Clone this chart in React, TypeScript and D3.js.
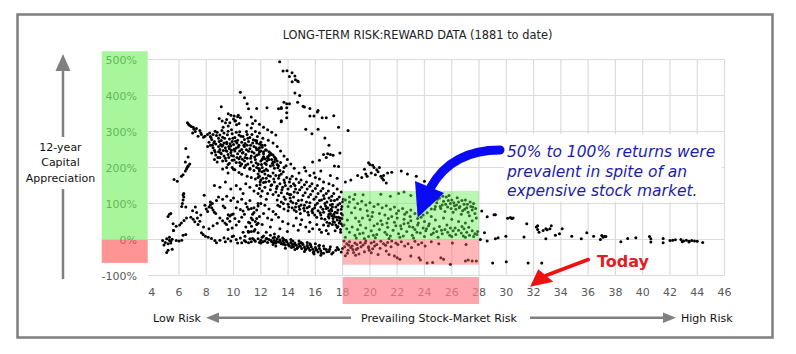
import React from "react";
import * as d3 from "d3";

// ---- data: [prevailing risk, 12-year capital appreciation %] ----
const earlyLow = [
  [4.8, -3], [5.0, -8], [5.1, 2], [5.2, -12], [5.3, -2], [5.3, 6], [5.4, -5], [5.5, 1], [5.8, -3], [6.0, -4],
  [6.2, -2], [5.1, -36], [5.2, -30], [5.5, -27], [6.5, 14], [6.3, 12], [5.6, 25], [4.9, -15], [5.4, -10],
  [7.65, 19], [7.77, 14], [7.94, 9], [8.14, 6], [8.38, 3], [8.63, -3], [8.75, -9],
];
const risingLeft = [
  [5.64, 167], [5.88, 162], [6.18, 176], [6.3, 180], [6.47, 190], [6.55, 196], [6.67, 204], [6.6, 200],
  [6.2, 92], [6.25, 100], [6.3, 110], [6.35, 118], [6.3, 124], [6.35, 128], [6.5, 90], [7.2, 90], [7.85, 123], [8.75, 108],
  [5.2, 64], [5.3, 70], [5.4, 72], [5.57, 44], [5.8, 37], [6.05, 40], [6.18, 46], [6.37, 53], [6.55, 60], [6.87, 62],
  [7.04, 56], [7.16, 49], [7.4, 42], [7.53, 51], [7.35, 60], [5.6, 25],
];
const middleBand = [
  [7.9, 95], [8.0, 85], [8.1, 78], [8.2, 90], [8.3, 96], [8.4, 88], [8.5, 82], [8.6, 76], [8.7, 72], [8.45, 100], [8.3, 104],
  [9.24, 93], [9.37, 88], [9.61, 69], [9.73, 65], [9.56, 58], [9.37, 46], [9.49, 42], [9.73, 51], [9.85, 69], [9.98, 71],
  [10.2, 88], [10.5, 83], [10.7, 79], [11.0, 90], [11.1, 84], [11.3, 86], [11.5, 88], [11.8, 100], [11.8, 93], [11.7, 82],
  [11.5, 75], [11.4, 70], [11.3, 60], [11.4, 55], [11.6, 50], [11.8, 45], [11.7, 58], [11.1, 48], [10.9, 35], [10.7, 20],
  [11.1, 20], [11.3, 22], [11.5, 23], [11.2, 46], [11.32, 37], [11.57, 28], [11.8, 19], [11.7, 42], [11.08, 23],
  [8.9, 118], [9.2, 112], [9.5, 120], [9.8, 108], [10.0, 115], [10.3, 105], [10.6, 112], [10.9, 100], [11.2, 108],
  [9.0, 60], [9.2, 52], [8.8, 45], [10.1, 58], [10.4, 50], [10.6, 62], [10.8, 70], [10.2, 40], [9.9, 32], [9.6, 28],
  [8.5, 38], [8.2, 30], [7.8, 35], [7.6, 68], [7.3, 75], [7.0, 80],
  [8.6, 150], [9.0, 145], [9.4, 160], [10.2, 150], [10.5, 140], [10.9, 155], [11.2, 145], [11.5, 135], [9.8, 140], [10.7, 128],
  [9.6, 208], [9.9, 200], [10.1, 194], [10.4, 186], [10.6, 181], [11.0, 176], [11.3, 172], [11.6, 168], [11.8, 182],
  [11.9, 176], [11.95, 160], [11.2, 195], [10.8, 200], [9.2, 196], [9.6, 185],
];
const upperLeftArm = [
  [6.62, 324], [6.79, 317], [7.04, 312], [7.28, 308], [7.53, 303], [7.4, 287], [7.65, 292], [7.9, 287], [8.09, 292],
  [6.5, 253], [6.67, 229], [6.47, 215], [6.79, 210], [6.67, 204], [6.7, 320], [6.9, 314], [7.1, 306], [7.2, 300],
  [7.0, 296], [7.6, 296], [7.8, 284],
];
const peak400 = [
  [10.5, 409], [10.8, 394], [11.0, 377], [11.1, 363], [11.7, 364], [9.1, 369],
  [9.61, 349], [9.81, 345], [10.05, 343], [10.3, 341], [10.5, 338], [8.95, 336], [9.17, 329], [9.41, 324], [9.73, 324],
  [10.1, 329], [10.4, 322], [9.24, 312], [9.61, 315], [10.22, 319], [9.5, 333], [10.0, 335], [10.15, 330], [10.35, 345],
  [11.0, 318], [11.3, 310], [11.6, 300], [11.4, 322], [11.9, 296], [11.3, 340], [11.6, 330], [11.9, 320], [12.2, 312],
  [12.5, 305], [12.8, 298], [13.1, 290],
];
const denseUpper = [
  [8.5, 292], [8.8, 298], [9.0, 290], [9.3, 296], [9.6, 301], [9.9, 294], [10.2, 298], [10.4, 290], [10.7, 286], [11.0, 292],
  [11.2, 283], [8.3, 286], [8.4, 278], [8.6, 272], [8.9, 281], [9.1, 275], [9.2, 284], [9.5, 270], [9.7, 279], [9.9, 272],
  [10.1, 283], [10.3, 276], [10.6, 270], [10.8, 278], [11.1, 272], [11.4, 268], [11.7, 274], [12.0, 270], [8.2, 270],
  [8.3, 262], [8.5, 255], [8.7, 265], [8.9, 258], [9.0, 250], [9.2, 262], [9.4, 255], [9.5, 266], [9.7, 252], [9.8, 260],
  [10.0, 264], [10.2, 254], [10.4, 262], [10.6, 250], [10.8, 258], [11.0, 262], [11.2, 252], [11.5, 258], [11.8, 250],
  [12.1, 256], [12.3, 262], [8.1, 258], [8.6, 248], [8.4, 240], [8.7, 235], [8.9, 244], [9.1, 238], [9.3, 232], [9.5, 245],
  [9.6, 236], [9.8, 242], [10.0, 232], [10.1, 246], [10.3, 238], [10.5, 230], [10.7, 242], [10.9, 236], [11.1, 245],
  [11.3, 232], [11.5, 240], [11.7, 234], [11.9, 244], [12.2, 238], [12.5, 230], [12.8, 236], [9.0, 228], [8.6, 222],
  [8.8, 215], [9.2, 218], [9.4, 226], [9.7, 212], [9.9, 220], [10.2, 214], [10.4, 224], [10.6, 210], [10.8, 218], [11.0, 226],
  [11.3, 215], [11.6, 222], [11.8, 210], [12.0, 218], [12.3, 212], [12.6, 222], [12.9, 215], [13.2, 208], [10.9, 206],
  [9.5, 200], [10.0, 195], [10.5, 205], [11.2, 198], [11.5, 192], [12.1, 200], [12.4, 195], [12.7, 204], [13.0, 198],
  [13.4, 192], [13.7, 200], [11.9, 190], [11.6, 275], [11.7, 268], [11.9, 265], [12.1, 262], [11.9, 255], [11.7, 249],
  [12.0, 246], [12.2, 244], [12.4, 248], [12.6, 244], [12.7, 240], [12.9, 235], [13.0, 229], [13.1, 225], [13.2, 218],
  [12.5, 226], [12.3, 224], [12.1, 222], [12.8, 222], [13.0, 215], [12.9, 206], [12.4, 208], [11.8, 208], [13.3, 205],
  [12.2, 230], [12.6, 232], [9.3, 268], [9.65, 258], [10.25, 268], [10.75, 262], [9.05, 264], [9.85, 248], [10.45, 246],
  [8.35, 283], [8.55, 268], [8.75, 289], [8.95, 272], [9.15, 259], [9.35, 281], [9.45, 247], [9.55, 291], [9.75, 266],
  [9.95, 281], [10.05, 251], [10.15, 273], [10.35, 257], [10.55, 287], [10.65, 240], [10.85, 267], [10.95, 249],
  [11.05, 281], [11.25, 262], [11.35, 244], [11.45, 277], [11.55, 229], [11.65, 255], [11.85, 237], [12.05, 262],
  [12.15, 226], [12.35, 249], [12.45, 218], [12.65, 236], [12.85, 211], [13.05, 222], [13.25, 199], [13.45, 214],
  [13.65, 188], [13.85, 205], [8.45, 262], [8.65, 243], [8.85, 228], [9.05, 241], [9.25, 247], [9.45, 219], [9.65, 228],
  [9.85, 233], [10.05, 221], [10.25, 228], [10.45, 214], [10.65, 223], [10.85, 228], [11.05, 210], [11.25, 226],
  [11.45, 205], [11.65, 213], [11.85, 197], [12.05, 208], [12.25, 191], [8.25, 296], [8.65, 301], [9.15, 303], [9.85, 305],
  [10.45, 299], [10.95, 300], [11.35, 292], [11.75, 286], [12.15, 281], [12.55, 276], [12.9, 268], [13.2, 258],
  [13.45, 246], [13.7, 232], [13.95, 222], [14.2, 210], [14.45, 198],
];
const peak480 = [
  [13.38, 494], [13.63, 468], [13.92, 469], [14.29, 463], [14.1, 453], [14.5, 454], [14.54, 444], [14.7, 440], [14.75, 438],
  [14.3, 438], [14.5, 407], [14.85, 400], [14.7, 381], [15.1, 370], [15.2, 368], [15.6, 364], [16.2, 358], [16.15, 354],
  [13.7, 381], [13.9, 377], [14.1, 377], [13.5, 367], [13.5, 364], [13.3, 363], [13.9, 366], [13.9, 352], [13.5, 330],
  [13.5, 327], [13.9, 338], [12.45, 366], [15.6, 343], [15.9, 343], [16.5, 338], [16.8, 338], [17.35, 344], [17.7, 312],
  [18.4, 303], [15.3, 306], [16.2, 306], [15.75, 294], [16.7, 282], [17.0, 262], [16.6, 236], [16.9, 238], [17.1, 236],
  [17.3, 234], [17.8, 240], [16.8, 228], [17.4, 204], [17.7, 203], [14.8, 185], [15.2, 200], [16.4, 190], [17.1, 178],
  [17.6, 170], [18.2, 160], [15.8, 215], [16.3, 220],
];
const diagonalBand = [
  [11.7, 200], [11.9, 195], [12.1, 188], [12.3, 182], [12.5, 192], [12.7, 176], [12.9, 185], [13.1, 178], [13.3, 170],
  [13.5, 182], [13.7, 165], [13.9, 172], [14.1, 160], [11.8, 172], [12.0, 165], [12.2, 158], [12.4, 170], [12.6, 162],
  [12.8, 152], [13.0, 160], [13.2, 148], [13.4, 155], [13.6, 145], [13.8, 150], [14.0, 140], [14.2, 148], [11.7, 150],
  [11.9, 142], [12.1, 135], [12.3, 145], [12.5, 128], [12.7, 138], [12.9, 125], [13.1, 132], [13.3, 122], [13.5, 130],
  [13.7, 118], [14.2, 125], [12.0, 120], [12.4, 112], [11.8, 128], [14.4, 155], [14.6, 168], [14.3, 176],
  [14.5, 150], [14.8, 158], [15.0, 145], [15.2, 152], [15.4, 140], [15.6, 148], [15.8, 135], [16.0, 142], [16.2, 128],
  [16.4, 135], [16.6, 122], [16.8, 128], [17.0, 115], [17.2, 120], [17.4, 108], [17.6, 112], [17.8, 100], [18.0, 105],
  [15.3, 190], [15.6, 178], [16.0, 172], [16.3, 168], [15.9, 185], [16.6, 160], [17.0, 155], [17.3, 150], [17.6, 140], [17.9, 132],
  [13.2, 110], [13.5, 104], [13.8, 112], [14.0, 98], [14.2, 106], [14.4, 118], [14.6, 100], [14.8, 92], [15.0, 110],
  [15.2, 95], [15.4, 88], [15.6, 102], [15.8, 84], [16.0, 96], [16.2, 80], [16.4, 90], [16.6, 76], [16.8, 86], [17.0, 70],
  [17.2, 80], [17.4, 64], [17.6, 74], [17.8, 60], [18.0, 68], [13.4, 92], [13.7, 85], [14.0, 80], [14.3, 88], [14.6, 78],
  [14.9, 72], [15.2, 80], [15.5, 68], [15.8, 74], [16.1, 62], [16.4, 68], [16.7, 56], [17.0, 60], [17.3, 50], [17.6, 54],
  [17.9, 44], [14.1, 125], [14.7, 130], [15.1, 122], [15.5, 118], [15.9, 112], [16.3, 108], [16.7, 100], [17.1, 96],
  [17.5, 90], [17.9, 84], [16.9, 88], [17.0, 80], [17.1, 72], [17.2, 66], [17.3, 58], [17.4, 48], [17.5, 40], [17.6, 33],
  [17.7, 62], [17.8, 52], [17.9, 72], [18.0, 38], [17.95, 58], [17.85, 28], [17.65, 82], [17.45, 76], [17.25, 90],
  [17.05, 45], [16.95, 38], [12.0, 100], [12.3, 95], [12.6, 85], [12.9, 78], [13.1, 70], [12.2, 72], [11.9, 64], [12.5, 60],
  [12.8, 55], [13.3, 62], [13.6, 50], [14.0, 44], [12.1, 42], [12.7, 35], [13.4, 30], [14.4, 38], [14.9, 42], [15.3, 35],
  [15.8, 30], [16.3, 28], [16.8, 25], [12.4, 20], [13.0, 15], [14.6, 60], [15.0, 55], [15.6, 48], [16.1, 42], [16.6, 40],
  [14.15, 115], [14.35, 102], [14.55, 90], [14.75, 108], [14.95, 96], [15.15, 87], [15.35, 104], [15.55, 92], [15.75, 79],
  [15.95, 88], [16.15, 101], [16.35, 74], [16.55, 84], [16.75, 93], [16.95, 64], [17.15, 84], [17.35, 70], [17.55, 62],
  [17.75, 46], [17.95, 92], [16.05, 118], [16.45, 110], [16.85, 104], [17.25, 98], [17.65, 96], [15.65, 125], [15.25, 130],
  [14.85, 138], [14.45, 132], [13.95, 128], [13.55, 138], [13.15, 142], [12.75, 150], [12.35, 160], [11.95, 152],
  [12.15, 170], [12.55, 178], [12.95, 168], [13.35, 178], [13.75, 158], [14.15, 168], [14.55, 140], [14.95, 165],
  [15.35, 160], [15.75, 155], [16.15, 150], [16.55, 142], [16.95, 135], [17.35, 128], [17.75, 118], [18.05, 112],
  [17.15, 108], [16.65, 114], [13.25, 95], [13.65, 100], [14.05, 90], [14.45, 82], [14.85, 84], [15.45, 76], [15.95, 68],
  [16.45, 58], [16.85, 48], [17.25, 42], [17.65, 36], [17.85, 20], [17.45, 24], [16.95, 16], [16.45, 20], [15.55, 22],
  [14.75, 26], [13.95, 22],
];
const lowerArm = [
  [9.3, 5], [9.6, 2], [9.9, 8], [10.2, 0], [10.5, 4], [10.6, -9], [10.84, 9], [11.1, -9], [11.3, -6], [11.6, -5], [11.8, 2],
  [12.0, -2], [12.1, 6], [12.3, -4], [12.4, 3], [12.5, -8], [12.6, 0], [12.8, -6], [12.9, 4], [13.0, -3], [13.1, -10],
  [13.2, 2], [13.3, -7], [13.4, -1], [13.5, -12], [13.6, -4], [13.7, -9], [13.8, -15], [13.9, -6], [14.0, -12], [14.1, -18],
  [14.2, -8], [14.3, -14], [14.4, -20], [14.5, -10], [14.6, -16], [14.7, -22], [14.8, -12], [14.9, -19], [15.0, -25],
  [15.1, -14], [15.2, -21], [15.3, -28], [15.4, -17], [15.5, -24], [15.6, -30], [15.7, -20], [15.8, -27], [15.9, -33],
  [16.0, -22], [16.1, -29], [16.2, -35], [16.3, -25], [16.4, -31], [16.6, -38], [16.8, -28], [17.0, -33], [17.2, -40],
  [17.5, -30], [12.2, 10], [12.7, 12], [13.3, 8], [13.6, 4], [12.0, -10], [12.9, -14], [11.9, -8], [14.2, 0], [14.8, -4],
  [15.4, -8], [16.0, -12], [16.6, -18], [17.1, -20], [17.6, -22], [18.0, -25], [13.1, -18], [13.8, -24], [14.5, -28],
  [15.2, -33], [15.9, -40], [16.4, -44], [9.0, -2], [9.4, -6], [9.8, -4], [10.0, 10], [10.3, -10], [10.8, -3], [11.4, 3],
  [12.15, -6], [12.45, 2], [12.75, -3], [12.95, -9], [13.15, -5], [13.45, -8], [13.65, -13], [13.85, -2], [14.05, -16],
  [14.25, -22], [14.45, -13], [14.65, -25], [14.85, -18], [15.05, -11], [15.25, -26], [15.45, -22], [15.65, -15],
  [15.85, -36], [16.05, -28], [16.25, -18], [16.45, -38], [16.65, -26], [16.85, -34], [17.05, -27], [17.3, -36],
  [17.7, -28], [17.9, -35], [13.0, 6], [13.7, 0], [14.35, -4], [14.95, -8], [15.6, -12], [16.3, -16], [11.5, -1],
  [11.2, 2], [10.9, -6],
];
const expensiveHigh = [
  [19.9, 213], [20.0, 208], [20.2, 206], [20.3, 200], [20.5, 194], [20.6, 188], [20.8, 176], [20.9, 170], [21.0, 165],
  [21.2, 157], [19.8, 176], [20.1, 185], [20.4, 180], [21.3, 185], [21.6, 187], [22.3, 190], [22.75, 182], [23.4, 176],
  [24.0, 162], [19.6, 195], [20.7, 200], [21.0, 178], [19.1, 178], [19.4, 172], [19.7, 182], [18.6, 165],
];
const greenZonePts = [
  [22.1, 128], [22.5, 132], [23.0, 122], [23.6, 118], [21.5, 120], [20.8, 126], [19.5, 124], [18.5, 118], [18.9, 125],
  [24.2, 112], [25.0, 126], [24.7, 110], [24.9, 102], [25.1, 115], [25.3, 96], [25.4, 106], [25.6, 118], [25.7, 90],
  [25.9, 100], [26.0, 110], [26.2, 94], [26.3, 84], [26.5, 104], [26.6, 92], [26.8, 80], [26.9, 98], [27.1, 88], [27.2, 76],
  [27.4, 92], [27.5, 82], [27.7, 72], [25.2, 86], [25.5, 78], [26.1, 76], [26.7, 70], [27.3, 66], [27.8, 60], [24.8, 92],
  [24.5, 85], [25.8, 122], [26.4, 116], [27.0, 110], [27.6, 100], [18.2, 110], [18.5, 104], [18.8, 112], [19.1, 100],
  [19.4, 106], [19.7, 96], [20.0, 102], [20.3, 92], [20.6, 98], [20.9, 88], [21.2, 94], [21.5, 84], [21.8, 90], [22.1, 80],
  [22.4, 86], [22.7, 76], [23.0, 82], [23.3, 72], [23.6, 78], [23.9, 68], [24.2, 74], [24.5, 64], [18.4, 92], [18.9, 88],
  [19.3, 84], [19.8, 80], [20.2, 76], [20.7, 72], [21.1, 68], [21.6, 64], [22.0, 60], [22.5, 56], [23.0, 52], [23.5, 58],
  [24.0, 50], [24.8, 54], [25.4, 60], [26.0, 56], [26.5, 50], [27.0, 46], [27.5, 52], [18.1, 40], [18.3, 30], [18.5, 20],
  [18.7, 35], [18.9, 12], [19.1, 28], [19.3, 40], [19.5, 18], [19.7, 32], [19.9, 8], [20.1, 24], [20.3, 38], [20.5, 14],
  [20.7, 28], [20.9, 42], [21.1, 20], [21.3, 34], [21.5, 10], [21.7, 26], [21.9, 38], [22.1, 16], [22.3, 30], [22.5, 44],
  [22.7, 22], [22.9, 36], [23.1, 12], [23.3, 28], [23.5, 40], [23.7, 18], [23.9, 32], [24.1, 24], [24.3, 38], [24.5, 14],
  [24.7, 30], [24.9, 22], [25.1, 36], [25.3, 16], [25.5, 28], [25.7, 20], [25.9, 32], [26.1, 24], [26.3, 14], [26.5, 26],
  [26.7, 18], [26.9, 30], [27.1, 20], [27.3, 12], [27.5, 24], [27.7, 16], [27.9, 22], [18.2, 6], [19.0, 4], [19.6, 3],
  [20.4, 5], [21.4, 3], [22.2, 6], [23.2, 4], [24.0, 8], [25.0, 6], [26.0, 8], [27.0, 6], [27.6, 8], [19.2, 50], [20.0, 55],
  [20.8, 52], [21.8, 48], [22.8, 46], [24.35, 96], [24.55, 118], [24.75, 84], [24.95, 112], [25.15, 92], [25.35, 120],
  [25.55, 98], [25.75, 108], [25.95, 86], [26.15, 102], [26.35, 96], [26.55, 88], [26.75, 108], [26.95, 84], [27.15, 98],
  [27.35, 104], [27.55, 90], [27.75, 86], [20.15, 64], [21.35, 58], [22.55, 70], [23.75, 62], [24.35, 44], [25.65, 40],
  [26.75, 36], [19.45, 60], [18.65, 74], [18.95, 60], [22.95, 64], [21.95, 72], [23.55, 46], [18.35, 54], [19.85, 66],
  [20.55, 44], [21.25, 46], [22.25, 38], [23.15, 34], [24.15, 30], [25.25, 26], [26.25, 32], [27.25, 34], [19.25, 16],
  [20.25, 12], [21.25, 14], [22.45, 10], [23.45, 20], [24.65, 18], [25.85, 12], [26.85, 10], [27.85, 14],
];
const redZonePts = [
  [18.1, -4], [18.3, -12], [18.5, -6], [18.7, -18], [18.9, -10], [19.1, -24], [19.3, -8], [19.5, -15], [19.7, -4],
  [19.9, -20], [20.1, -10], [20.3, -6], [20.5, -14], [20.8, -5], [21.0, -12], [21.3, -8], [21.6, -4], [21.9, -10],
  [22.3, -6], [22.8, -12], [23.3, -5], [23.8, -9], [24.5, -6], [18.4, -30], [18.8, -36], [19.2, -40], [18.2, -45],
  [19.0, -28], [19.6, -34], [20.2, -26], [20.6, -42], [18.6, -22], [19.9, -23], [20.1, -37],
  [21.2, -32], [21.4, -42], [21.8, -46], [22.0, -51], [22.2, -55], [23.0, -46], [23.6, -51], [23.7, -57], [24.2, -65],
  [24.6, -64], [25.2, -51], [25.4, -55], [25.9, -69], [27.0, -60], [27.2, -57], [27.5, -60], [27.8, -60],
  [18.15, -20], [18.45, -16], [18.75, -28], [19.05, -14], [19.35, -20], [19.65, -10], [19.95, -30], [20.35, -18],
  [20.75, -24], [21.15, -16], [21.55, -20], [22.05, -14], [22.55, -18], [23.05, -22], [23.55, -14], [24.05, -18],
  [25.05, -12], [26.05, -10], [27.05, -14], [18.35, -38], [18.95, -44],
];
const tailPts = [
  [28.2, 79], [28.6, 63], [29.1, 69], [28.4, 19], [29.4, 5], [29.0, -65], [29.2, 69], [30.1, 59], [30.3, 61], [30.5, 60],
  [30.4, 58], [31.5, 44], [32.2, 35], [32.3, 38], [32.4, 20], [32.3, 28], [32.7, 25], [32.9, 30], [33.0, 27], [33.2, 30],
  [32.9, 2], [33.3, 38], [33.6, 12], [33.9, 16], [34.1, 30], [34.8, 9], [35.5, 2], [35.9, 19], [36.4, 9], [36.9, 0],
  [37.0, 11], [37.1, 6], [37.2, 9], [37.3, 8], [38.4, -6], [38.9, 3], [39.5, 5], [40.5, 8], [40.6, -7], [40.6, 2],
  [41.5, 3], [41.5, -9], [42.0, -3], [42.2, -2], [42.4, -1], [42.8, 0], [43.0, -4], [43.2, -2], [43.4, -5], [43.6, -3],
  [43.8, -4], [44.0, -5], [44.4, -8], [42.9, -6], [43.4, -7], [29.97, 9], [31.3, 7], [29.2, 2], [30.0, -62], [31.6, -65],
  [32.6, -65], [28.1, 0], [28.6, -4],
];

const xTicks = d3.range(4, 47, 2);
const yTicks = [-100, 0, 100, 200, 300, 400, 500];
const highlightRisk = [18, 28];
const greenReturn = [0, 135];
const redReturn = [-70, 0];
const leftGreen = [0, 523];
const leftRed = [-65, 0];

const title = "LONG-TERM RISK:REWARD DATA (1881 to date)";
const yTitle = ["12-year", "Capital", "Appreciation"];
const note = ["50% to 100% returns were", "prevalent in spite of an", "expensive stock market."];

const font = "'DejaVu Sans', Verdana, sans-serif";

export default function App() {
  const W = 796;
  const H = 354;
  const x = d3.scaleLinear().domain([4, 46]).range([151.7, 724.5]);
  const y = d3.scaleLinear().domain([-100, 500]).range([275.5, 59.5]);
  const points = [
    ...earlyLow, ...risingLeft, ...middleBand, ...upperLeftArm, ...peak400, ...denseUpper,
    ...peak480, ...diagonalBand, ...lowerArm, ...expensiveHigh, ...greenZonePts, ...redZonePts, ...tailPts,
  ];
  const grey = "#595959";

  return (
    <svg width={W} height={H} style={{ position: "absolute", left: 0, top: 0 }} fontFamily={font}>
      <rect x={0} y={0} width={W} height={H} fill="#fff" />
      <rect x={17.5} y={14.5} width={755} height={323} fill="#fff" stroke="#7f7f7f" strokeWidth={2.5} />

      <text x={417.5} y={39} textAnchor="middle" fontSize={11.4} fill="#222">{title}</text>

      {/* grid */}
      {yTicks.map((t) => (
        <line key={"h" + t} x1={148} x2={x(46)} y1={y(t)} y2={y(t)} stroke="#dcdcdc" strokeWidth={1.2} />
      ))}
      {xTicks.filter((t) => t > 4).map((t) => (
        <line key={"v" + t} x1={x(t)} x2={x(t)} y1={y(500)} y2={y(-100)} stroke="#dcdcdc" strokeWidth={1.2} />
      ))}

      {/* white box behind the note */}
      <rect x={504} y={134} width={218} height={68} fill="#fff" />

      {/* points */}
      <g fill="#000">
        {points.map((d, i) => (
          <circle key={i} cx={x(d[0])} cy={y(d[1])} r={1.5} />
        ))}
      </g>

      {/* highlight zones */}
      <rect x={x(highlightRisk[0])} width={x(highlightRisk[1]) - x(highlightRisk[0])}
        y={y(greenReturn[1])} height={y(greenReturn[0]) - y(greenReturn[1])} fill="#66ee55" opacity={0.45} />
      <rect x={x(highlightRisk[0])} width={x(highlightRisk[1]) - x(highlightRisk[0])}
        y={y(redReturn[1])} height={y(redReturn[0]) - y(redReturn[1])} fill="#ff5f5f" opacity={0.45} />

      {/* y labels + left bands */}
      {yTicks.map((t) => (
        <text key={"yl" + t} x={137} y={y(t) + 4} textAnchor="end" fontSize={11} fill={grey}>{t}%</text>
      ))}
      <rect x={101.7} width={46} y={y(leftGreen[1])} height={y(leftGreen[0]) - y(leftGreen[1])} fill="#6cf058" opacity={0.6} />
      <rect x={101.7} width={46} y={y(leftRed[1])} height={y(leftRed[0]) - y(leftRed[1])} fill="#ff5a5a" opacity={0.65} />

      {/* x labels + band */}
      {xTicks.map((t) => (
        <text key={"xl" + t} x={x(t)} y={295.5} textAnchor="middle" fontSize={11} fill={grey}>{t}</text>
      ))}
      <rect x={x(highlightRisk[0])} width={x(highlightRisk[1]) - x(highlightRisk[0])} y={277} height={27}
        fill="#ff7f8c" opacity={0.7} />

      {/* vertical axis arrow + title */}
      <g stroke="#808080" strokeWidth={2.5}>
        <line x1={63} x2={63} y1={68} y2={137} />
        <line x1={63} x2={63} y1={189} y2={279} />
      </g>
      <polygon points="63,54 55.5,71 70.5,71" fill="#808080" />
      {yTitle.map((s, i) => (
        <text key={s} x={60.5} y={150.5 + i * 15.5} textAnchor="middle" fontSize={11} fill="#111">{s}</text>
      ))}

      {/* bottom risk arrows */}
      <g stroke="#808080" strokeWidth={2.5}>
        <line x1={351} x2={217} y1={317.7} y2={317.7} />
        <line x1={530} x2={664} y1={317.7} y2={317.7} />
      </g>
      <polygon points="206,317.7 219,312.5 219,323" fill="#808080" />
      <polygon points="676,317.7 663,312.5 663,323" fill="#808080" />
      <text x={153} y={321.5} fontSize={11} fill="#111">Low Risk</text>
      <text x={439} y={321.5} textAnchor="middle" fontSize={11} fill="#111">Prevailing Stock-Market Risk</text>
      <text x={681} y={321.5} fontSize={11} fill="#111">High Risk</text>

      {/* note + blue arrow */}
      {note.map((s, i) => (
        <text key={s} x={507} y={157 + i * 19.7} fontSize={15.5} fontStyle="italic" fill="#1c1ca6">{s}</text>
      ))}
      <path d="M500,150 Q452,150 431,187" fill="none" stroke="#0a0af5" strokeWidth={9} strokeLinecap="round" />
      <polygon points="415,181 444,193 417.7,217.5" fill="#0a0af5" />

      {/* Today */}
      <text x={597} y={267.3} fontSize={16} fontWeight="bold" fill="#e31b23">Today</text>
      <line x1={588.3} y1={259.5} x2={546} y2={275.5} stroke="#f01010" strokeWidth={3.5} strokeLinecap="round" />
      <polygon points="538.3,269.3 553.3,281.7 530,286.7" fill="#f01010" />
    </svg>
  );
}
